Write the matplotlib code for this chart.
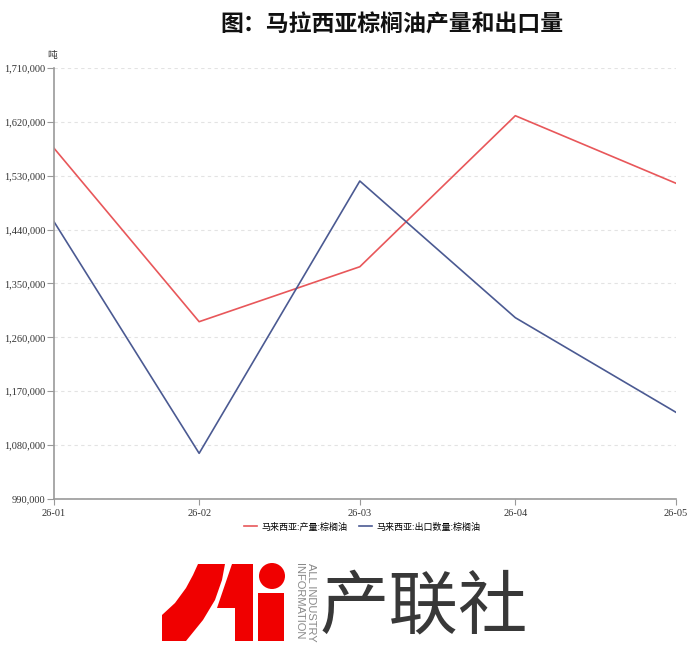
import numpy as np
import pandas as pd
import matplotlib
matplotlib.use('Agg')
import matplotlib.pyplot as plt
from matplotlib.ticker import FuncFormatter, MultipleLocator
from matplotlib.patches import Polygon, Circle, Rectangle

plt.rcParams['font.family'] = ['Noto Sans CJK SC', 'DejaVu Sans']

# 数据
dates = pd.to_datetime(['2026-01-31', '2026-02-28', '2026-03-31', '2026-04-30', '2026-05-31'])
xlabels = ['26-01', '26-02', '26-03', '26-04', '26-05']
production = [1576000, 1286200, 1378000, 1630300, 1517400]
exports = [1453200, 1066300, 1521200, 1292900, 1134800]
name_prod = '马来西亚:产量:棕榈油'
name_exp = '马来西亚:出口数量:棕榈油'

red = '#e8575a'
blue = '#4b5a92'

fig = plt.figure(figsize=(7, 6.53), dpi=100)
ax = fig.add_axes([54/700, 1-499/653, (676-54)/700, (499-68)/653])

ax.plot(dates, production, color=red, lw=1.2, label=name_prod)
ax.plot(dates, exports, color=blue, lw=1.2, label=name_exp)

ax.set_xlim(dates[0], dates[-1])
ax.set_ylim(990000, 1710000)
ax.yaxis.set_major_locator(MultipleLocator(90000))
ax.yaxis.set_major_formatter(FuncFormatter(lambda v, p: '{:,.0f}'.format(v)))
ax.set_xticks(dates)
ax.set_xticklabels(xlabels)

ax.grid(axis='y', color='#e3e3e3', ls=(0, (3, 3)), lw=0.8)
ax.set_axisbelow(True)
for s in ['top', 'right']:
    ax.spines[s].set_visible(False)
ax.spines['left'].set_color('#999999')
ax.spines['bottom'].set_color('#999999')
ax.spines['left'].set_linewidth(1.2)
ax.spines['bottom'].set_linewidth(1.2)
ax.tick_params(axis='y', length=5, color='#999999', labelsize=7.5, pad=1)
ax.tick_params(axis='x', length=4, color='#999999', labelsize=7.5, pad=3)
for lab in ax.get_xticklabels() + ax.get_yticklabels():
    lab.set_family('Liberation Serif')
    lab.set_color('#333333')

fig.text(52/700, 1-55/653, '吨', fontsize=7, color='#333333', ha='center', va='center')
fig.text(392/700, 1-25/653, '图：马拉西亚棕榈油产量和出口量', fontsize=16.5,
         fontweight='bold', ha='center', va='center', color='#111111')

fig.legend(loc='center', bbox_to_anchor=(362/700, 1-527/653), ncol=2, frameon=False,
           fontsize=6.5, handlelength=1.4, columnspacing=1.3, handletextpad=0.5)

# 标志
lg = fig.add_axes([0, 0, 1, 1])
lg.set_xlim(0, 700)
lg.set_ylim(653, 0)
lg.axis('off')
lg.add_patch(Polygon([(162, 641), (162, 615), (175, 603), (186, 588), (193, 575), (198, 564),
                      (225, 564), (222, 580), (215, 600), (203, 620), (186, 641)],
                     closed=True, color='#f00000', lw=0))
lg.add_patch(Polygon([(232, 564), (253, 564), (253, 641), (235, 641), (235, 608), (217, 608)],
                     closed=True, color='#f00000', lw=0))
lg.add_patch(Circle((272, 576), 13, color='#f00000', lw=0))
lg.add_patch(Rectangle((258, 593), 26, 48, color='#f00000', lw=0))
lg.text(311, 563, 'ALL INDUSTRY', rotation=270, ha='center', va='top', fontsize=8,
        color='#888888', family='Liberation Sans')
lg.text(299, 563, 'INFORMATION', rotation=270, ha='center', va='top', fontsize=8,
        color='#888888', family='Liberation Sans')
lg.text(320, 608, '产联社', ha='left', va='center', fontsize=50, color='#383838')

fig.savefig('out.png', dpi=100)
